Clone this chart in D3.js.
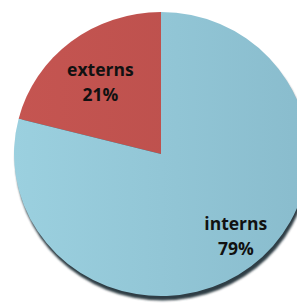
<!DOCTYPE html>
<html>
<head>
<meta charset="utf-8">
<script src="https://cdn.jsdelivr.net/npm/d3@7"></script>
<style>
  html, body { margin: 0; padding: 0; background: #fff; }
  svg { display: block; }
</style>
</head>
<body>
<div id="chart"></div>
<script>
const categories = ['externs', 'interns'];
const shares = [21, 79];
const labels = ['21%', '79%'];

const width = 297;
const height = 304;
const cx = 161, cy = 154;
const ry = 142, rx = 147;

const svg = d3.select('#chart')
  .append('svg')
    .attr('width', width)
    .attr('height', height);

const defs = svg.append('defs');
const grads = {
  externs: ['#c55551', '#b84e4b'],
  interns: ['#9bd0df', '#89bccd']
};
Object.keys(grads).forEach(k => {
  const g = defs.append('linearGradient')
    .attr('id', `grad-${k}`)
    .attr('gradientUnits', 'userSpaceOnUse')
    .attr('x1', -ry).attr('y1', 0)
    .attr('x2', ry).attr('y2', 0);
  g.append('stop').attr('offset', '0%').attr('stop-color', grads[k][0]);
  g.append('stop').attr('offset', '100%').attr('stop-color', grads[k][1]);
});
defs.append('filter').attr('id', 'blur')
  .attr('x', '-10%').attr('y', '-10%').attr('width', '120%').attr('height', '120%')
  .append('feGaussianBlur').attr('stdDeviation', 1);

const data = categories.map((c, i) => ({ name: c, value: shares[i], label: labels[i] }));

// externs sits left of 12 o'clock, interns runs clockwise from the top
const pie = d3.pie()
  .sort(null)
  .value(d => d.value)
  .startAngle(-shares[0] / 100 * 2 * Math.PI)
  .endAngle(2 * Math.PI - shares[0] / 100 * 2 * Math.PI);

const arc = d3.arc().innerRadius(0).outerRadius(ry);
const arcs = pie(data);

// shadow under the disc
svg.append('ellipse')
  .attr('cx', cx + 1.5)
  .attr('cy', cy + 4.5)
  .attr('rx', rx)
  .attr('ry', ry)
  .attr('fill', '#2e3d44')
  .attr('filter', 'url(#blur)');

const g = svg.append('g')
  .attr('transform', `translate(${cx}, ${cy}) scale(${rx / ry}, 1)`);

g.selectAll('path')
  .data(arcs)
  .enter().append('path')
    .attr('d', arc)
    .attr('fill', d => `url(#grad-${d.data.name})`);

const labelR = { externs: 0.64, interns: 0.73 };
const labelDx = { externs: -3, interns: 9 };
const text = svg.selectAll('text.lbl')
  .data(arcs)
  .enter().append('text')
    .attr('class', 'lbl')
    .attr('font-family', '"Open Sans", sans-serif')
    .attr('font-weight', 'bold')
    .attr('font-size', 17.5)
    .attr('fill', '#111')
    .attr('text-anchor', 'middle')
    .attr('transform', d => {
      const r = ry * labelR[d.data.name];
      const [x, y] = d3.arc().innerRadius(r).outerRadius(r).centroid(d);
      return `translate(${cx + x * rx / ry + labelDx[d.data.name]}, ${cy + y})`;
    });

text.append('tspan').attr('x', 0).attr('y', -6).text(d => d.data.name);
text.append('tspan').attr('x', 0).attr('y', 19).text(d => d.data.label);
</script>
</body>
</html>
